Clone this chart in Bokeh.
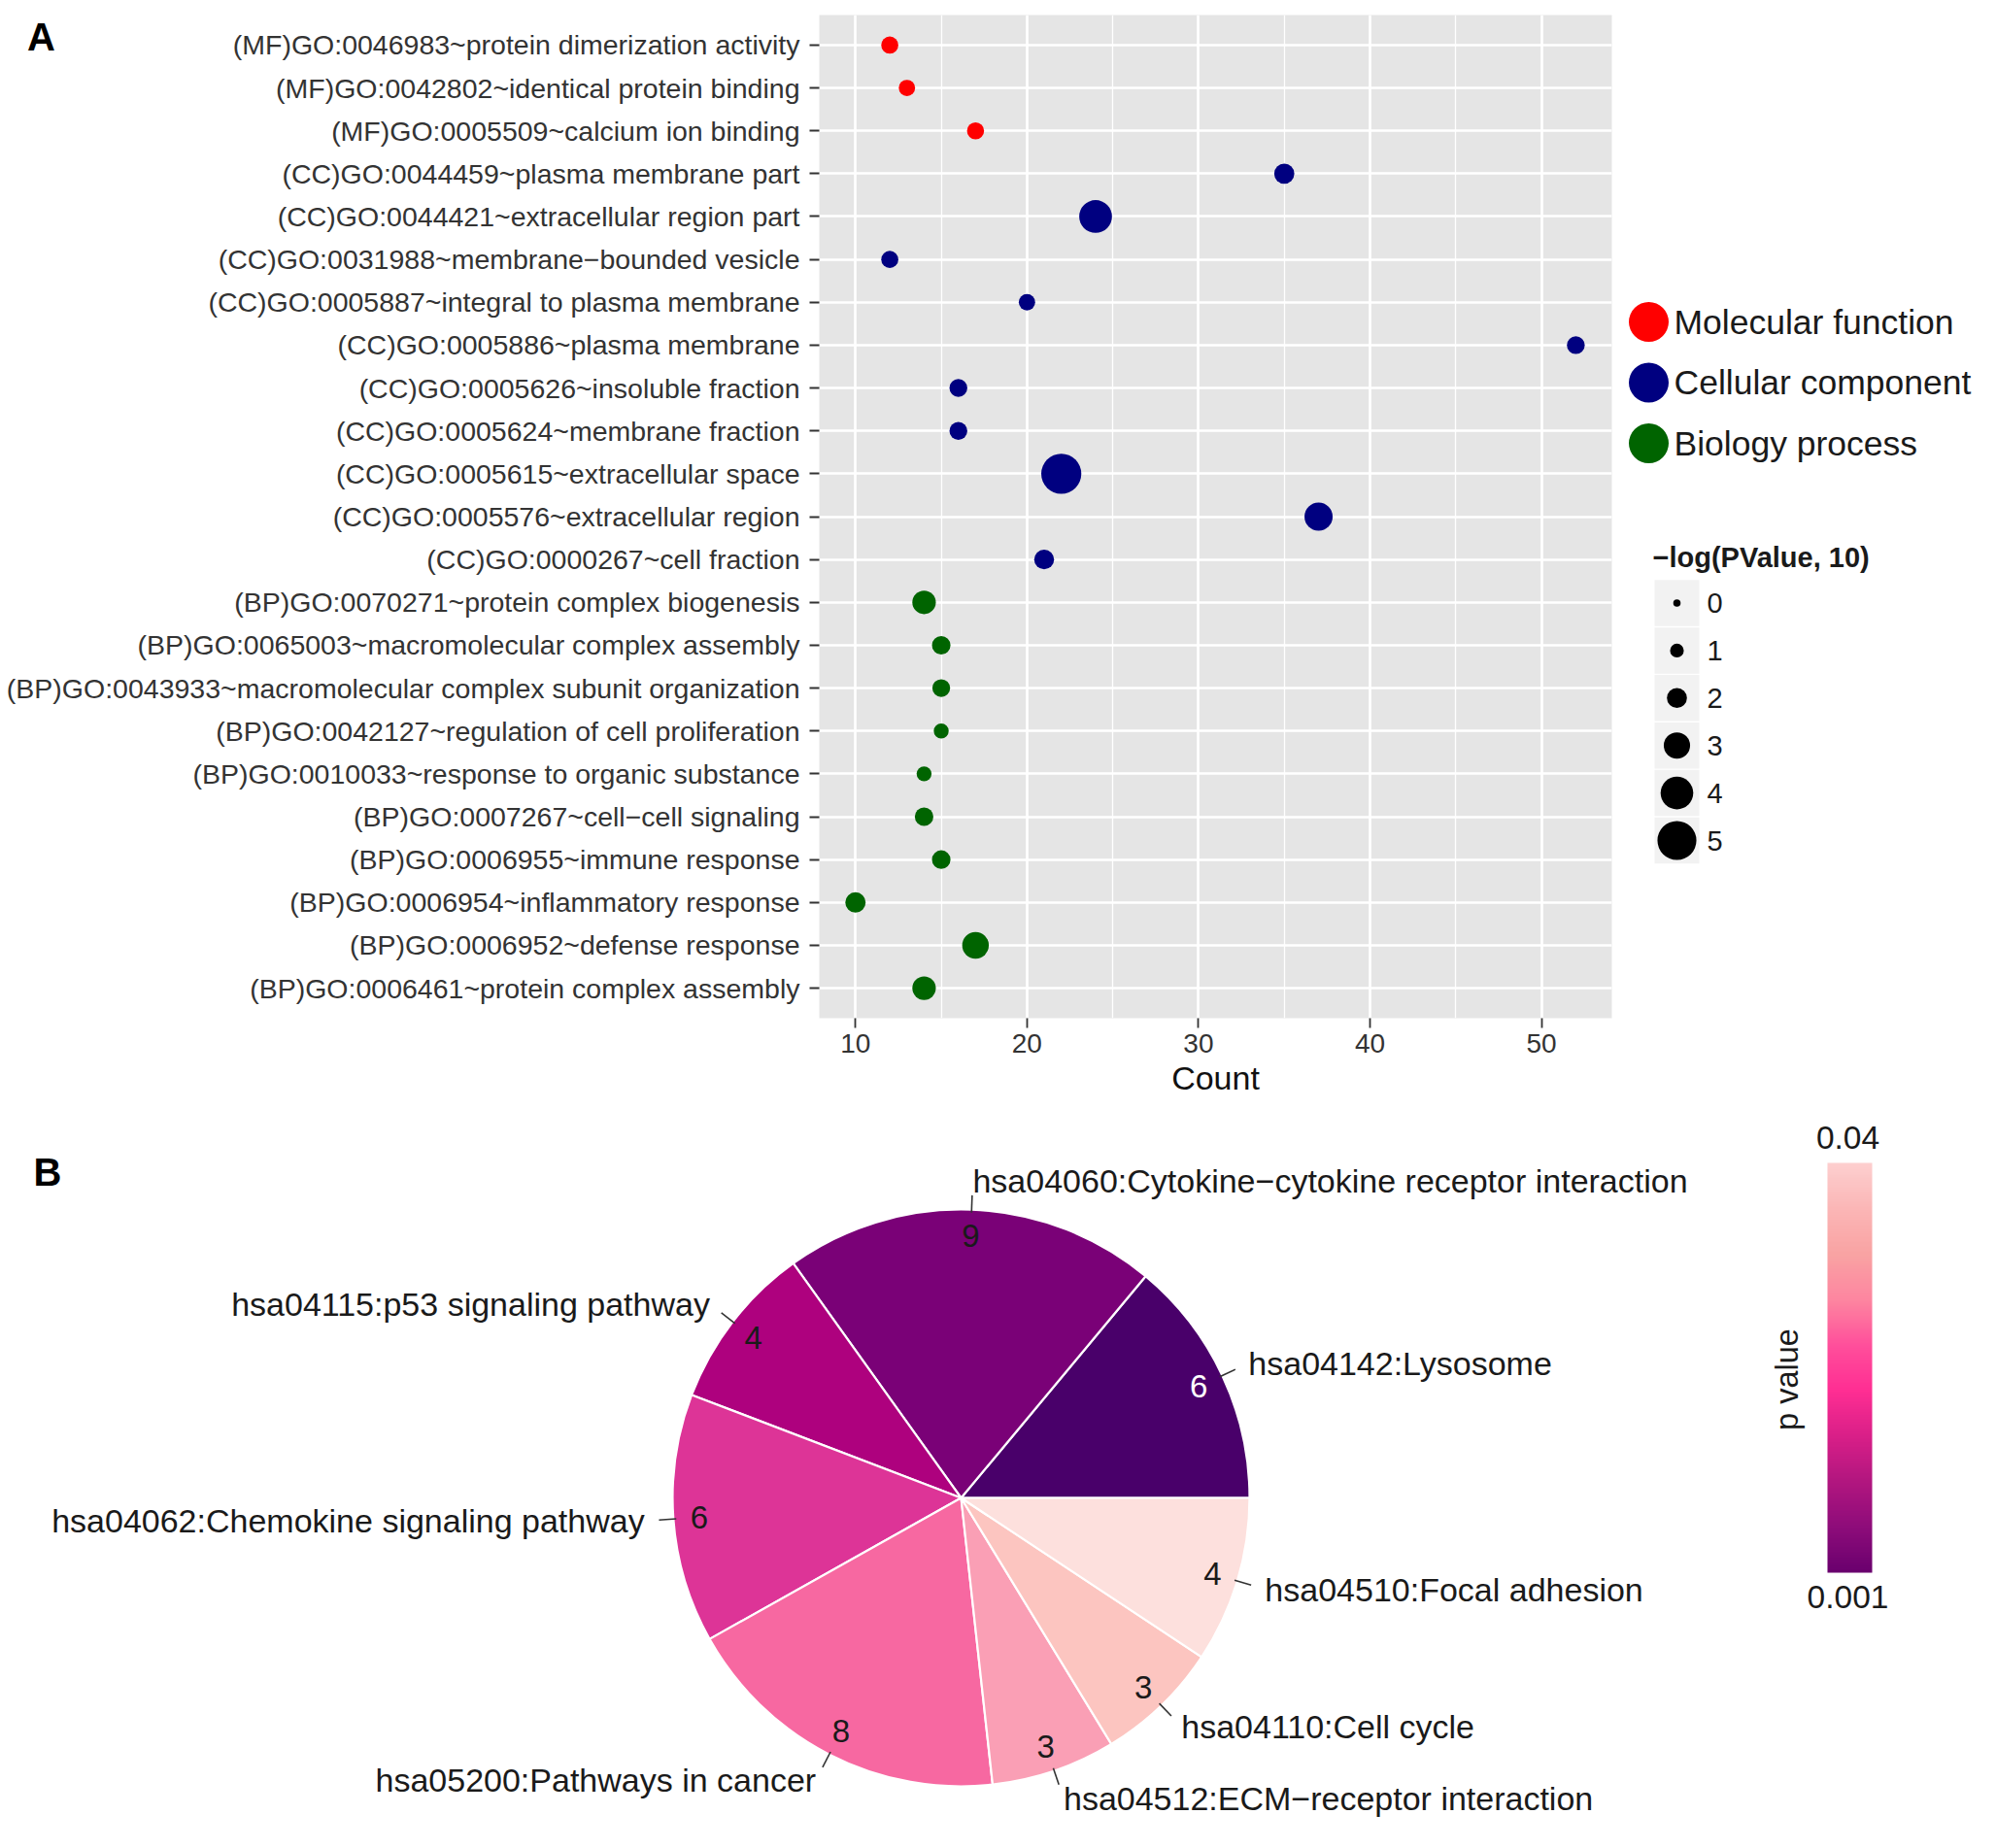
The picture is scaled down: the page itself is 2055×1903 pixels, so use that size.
import numpy as np
from bokeh.plotting import figure
from bokeh.models import (Range1d, FactorRange, ColumnDataSource, SingleIntervalTicker,
                          Label, LinearColorMapper)
from bokeh.layouts import column, row
from bokeh.transform import factor_cmap
from bokeh.embed import file_html
from bokeh.resources import INLINE

FONT = "Liberation Sans"

# ---------------- Panel A data (top to bottom) ----------------
go_terms = [
    "(MF)GO:0046983~protein dimerization activity",
    "(MF)GO:0042802~identical protein binding",
    "(MF)GO:0005509~calcium ion binding",
    "(CC)GO:0044459~plasma membrane part",
    "(CC)GO:0044421~extracellular region part",
    "(CC)GO:0031988~membrane\u2212bounded vesicle",
    "(CC)GO:0005887~integral to plasma membrane",
    "(CC)GO:0005886~plasma membrane",
    "(CC)GO:0005626~insoluble fraction",
    "(CC)GO:0005624~membrane fraction",
    "(CC)GO:0005615~extracellular space",
    "(CC)GO:0005576~extracellular region",
    "(CC)GO:0000267~cell fraction",
    "(BP)GO:0070271~protein complex biogenesis",
    "(BP)GO:0065003~macromolecular complex assembly",
    "(BP)GO:0043933~macromolecular complex subunit organization",
    "(BP)GO:0042127~regulation of cell proliferation",
    "(BP)GO:0010033~response to organic substance",
    "(BP)GO:0007267~cell\u2212cell signaling",
    "(BP)GO:0006955~immune response",
    "(BP)GO:0006954~inflammatory response",
    "(BP)GO:0006952~defense response",
    "(BP)GO:0006461~protein complex assembly",
]
go_category = (["Molecular function"] * 3 + ["Cellular component"] * 10
               + ["Biology process"] * 10)
go_count = [12, 13, 17, 35, 24, 12, 20, 52, 16, 16, 22, 37, 21,
            14, 15, 15, 15, 14, 14, 15, 10, 17, 14]
go_neglogp = [1.54, 1.42, 1.54, 2.02, 4.02, 1.54, 1.42, 1.66, 1.66, 1.66, 5.18, 3.29, 1.98,
              2.55, 1.77, 1.65, 1.20, 1.20, 1.77, 1.77, 2.06, 3.05, 2.55]

category_names = ["Molecular function", "Cellular component", "Biology process"]
category_colors = ["#ff0000", "#000080", "#006400"]
size_breaks = [0, 1, 2, 3, 4, 5]
size_title = "\u2212log(PValue, 10)"

# ---------------- Panel B data ----------------
kegg_terms = [
    "hsa04142:Lysosome",
    "hsa04060:Cytokine\u2212cytokine receptor interaction",
    "hsa04115:p53 signaling pathway",
    "hsa04062:Chemokine signaling pathway",
    "hsa05200:Pathways in cancer",
    "hsa04512:ECM\u2212receptor interaction",
    "hsa04110:Cell cycle",
    "hsa04510:Focal adhesion",
]
kegg_counts = [6, 9, 4, 6, 8, 3, 3, 4]
kegg_pvalue = [0.0012, 0.0030, 0.0062, 0.011, 0.017, 0.024, 0.031, 0.038]
pbar_labels = ["0.001", "0.04"]
pbar_limits = [0.001, 0.04]

pie_palette = ["#49006a", "#7a0177", "#ae017e", "#dd3497",
               "#f768a1", "#fa9fb5", "#fcc5c0", "#fde0dd"]


def dot_px(v):
    return 7.6 + 6.5 * v


# ================= Panel A =================
TOP_B, BOT_B, HA = 15, 102, 1150
FRAME_LEFT = 843
factors = go_terms[::-1]
yr = FactorRange(factors=factors, range_padding=0.2, range_padding_units="absolute")
pA = figure(width=1665, height=HA, x_range=Range1d(7.89, 54.1), y_range=yr,
            output_backend="svg", toolbar_location=None,
            min_border_left=FRAME_LEFT, min_border_right=6,
            min_border_top=TOP_B, min_border_bottom=BOT_B)
pA.background_fill_color = "#e5e5e5"
pA.border_fill_color = "white"
pA.outline_line_color = None

srcA = ColumnDataSource(dict(term=go_terms, count=go_count, cat=go_category,
                             size=[dot_px(v) for v in go_neglogp]))
pA.scatter(x="count", y="term", size="size", source=srcA, line_color=None,
           fill_color=factor_cmap("cat", category_colors, category_names))

pA.xaxis.ticker = SingleIntervalTicker(interval=10, num_minor_ticks=2)
pA.xgrid.grid_line_color = "white"
pA.xgrid.grid_line_width = 2.6
pA.xgrid.minor_grid_line_color = "white"
pA.xgrid.minor_grid_line_width = 1.3
pA.ygrid.grid_line_color = "white"
pA.ygrid.grid_line_width = 2.6

for ax in (pA.xaxis[0], pA.yaxis[0]):
    ax.axis_line_color = None
    ax.major_tick_line_color = "#333333"
    ax.major_tick_line_width = 1.8
    ax.major_tick_out = 10
    ax.major_tick_in = 0
    ax.minor_tick_line_color = None
    ax.major_label_text_font = FONT
    ax.major_label_text_color = "#333333"

pA.yaxis.major_label_text_font_size = "28.5px"
pA.yaxis.major_label_standoff = 10
pA.xaxis.major_label_text_font_size = "28px"
pA.xaxis.major_label_standoff = 6
pA.xaxis.axis_label = "Count"
pA.xaxis.axis_label_text_font = FONT
pA.xaxis.axis_label_text_font_size = "34px"
pA.xaxis.axis_label_text_font_style = "normal"
pA.xaxis.axis_label_text_color = "#111111"
pA.xaxis.axis_label_standoff = 4

# panel letter "A": the y axis' own title, horizontal, at the top end of the axis
yax = pA.yaxis[0]
try:
    yax.axis_label = "\nA"
    yax.axis_label_text_font = FONT
    yax.axis_label_text_font_size = "40px"
    yax.axis_label_text_font_style = "bold"
    yax.axis_label_text_color = "black"
    yax.axis_label_text_line_height = 1.0
    yax.axis_label_orientation = "horizontal"
    yax.axis_label_align = "end"
    yax.axis_label_standoff = -53
except Exception:
    yax.axis_label = None

# ================= Legend (right of A) =================
pL = figure(width=374, height=HA, x_range=Range1d(0, 374),
            y_range=Range1d(HA - BOT_B, TOP_B),
            x_axis_type=None, y_axis_type=None, output_backend="svg",
            toolbar_location=None, min_border_left=0, min_border_right=0,
            min_border_top=TOP_B, min_border_bottom=BOT_B)
pL.outline_line_color = None
pL.grid.visible = False

leg_y = [331 + 62.5 * i for i in range(len(category_names))]
pL.scatter(x=[32] * 3, y=leg_y, size=41, fill_color=category_colors, line_color=None)
pL.text(x=[58] * 3, y=leg_y, text=category_names, text_font={"value": FONT},
        text_font_size="35.5px", text_baseline="middle", text_align="left",
        text_color="#1a1a1a")

pL.text(x=[36], y=[573], text=[size_title], text_font={"value": FONT},
        text_font_size="29px", text_font_style="bold", text_baseline="middle",
        text_align="left", text_color="#1a1a1a")
key_y = [620.5 + 48.9 * i for i in range(len(size_breaks))]
pL.rect(x=[61] * len(size_breaks), y=key_y, width=46, height=47.5,
        fill_color="#f2f2f2", line_color=None)
pL.scatter(x=[61] * len(size_breaks), y=key_y, size=[dot_px(v) for v in size_breaks],
           fill_color="black", line_color=None)
pL.text(x=[92] * len(size_breaks), y=key_y, text=[str(v) for v in size_breaks],
        text_font={"value": FONT}, text_font_size="29px", text_baseline="middle",
        text_align="left", text_color="#1a1a1a")

# ================= Panel B: pie =================
R_PX = 297.0
cx_px, cy_px = 989.0, 392.0
WB, HB = 1760, 737
pB = figure(width=WB, height=HB,
            x_range=Range1d(-cx_px / R_PX, (WB - cx_px) / R_PX),
            y_range=Range1d(-(HB - cy_px) / R_PX, cy_px / R_PX),
            x_axis_type=None, y_axis_type=None, output_backend="svg",
            toolbar_location=None, min_border=0)
pB.outline_line_color = None
pB.grid.visible = False

total = float(sum(kegg_counts))
cum = np.concatenate([[0], np.cumsum(kegg_counts)])
starts = 2 * np.pi * cum[:-1] / total
ends = 2 * np.pi * cum[1:] / total
mids = (starts + ends) / 2
order = [t for _, t in sorted(zip(kegg_pvalue, kegg_terms))]
rank = [order.index(t) for t in kegg_terms]

srcB = ColumnDataSource(dict(
    term=kegg_terms, start=starts, end=ends,
    nx=0.91 * np.cos(mids), ny=0.91 * np.sin(mids),
    lx=1.1 * np.cos(mids), ly=1.1 * np.sin(mids),
    s0x=0.99 * np.cos(mids), s0y=0.99 * np.sin(mids),
    s1x=1.05 * np.cos(mids), s1y=1.05 * np.sin(mids),
    count=[str(c) for c in kegg_counts],
    ncolor=["white" if r == 0 else "#1a1a1a" for r in rank],
    align=["left" if np.cos(m) >= 0 else "right" for m in mids],
))
pB.wedge(x=0, y=0, radius=1, start_angle="start", end_angle="end", source=srcB,
         fill_color=factor_cmap("term", pie_palette, order),
         line_color="white", line_width=2.2)
pB.segment(x0="s0x", y0="s0y", x1="s1x", y1="s1y", source=srcB,
           line_color="#333333", line_width=1.6)
pB.text(x="nx", y="ny", text="count", source=srcB, text_font={"value": FONT},
        text_font_size="33px", text_align="center", text_baseline="middle",
        text_color="ncolor")
pB.text(x="lx", y="ly", text="term", source=srcB, text_font={"value": FONT},
        text_font_size="34px", text_align="align", text_baseline="middle",
        text_color="#1a1a1a")
pB.add_layout(Label(x=(34 - cx_px) / R_PX, y=(cy_px - 56) / R_PX, text="B",
                    text_font=FONT, text_font_size="40px", text_font_style="bold",
                    text_baseline="middle", text_align="left", text_color="black"))

# ================= Colour bar =================
WC, HC = 279, 737
pC = figure(width=WC, height=HC, x_range=Range1d(0, WC), y_range=Range1d(0, HC),
            x_axis_type=None, y_axis_type=None, output_backend="svg",
            toolbar_location=None, min_border=0)
pC.outline_line_color = None
pC.grid.visible = False

anchors = ["#6a006e", "#8e0c7a", "#b2167f", "#d91f88", "#ff2e93", "#ff4f9b",
           "#fd86a0", "#f9a3a3", "#fbb6b6", "#fdcfcf"]
def _hex(c):
    return np.array([int(c[i:i + 2], 16) for i in (1, 3, 5)], dtype=float)
anc = np.array([_hex(c) for c in anchors])
tpos = np.linspace(0, 1, len(anchors))
tt = np.linspace(0, 1, 256)
grad = ["#%02x%02x%02x" % tuple(int(round(np.interp(t, tpos, anc[:, k]))) for k in range(3))
        for t in tt]
mapper = LinearColorMapper(palette=grad, low=pbar_limits[0], high=pbar_limits[1])
img = np.linspace(pbar_limits[0], pbar_limits[1], 256).reshape(256, 1)
pC.image(image=[img], x=121, y=268, dw=46, dh=422, color_mapper=mapper)
pC.text(x=[142, 142], y=[243, 716], text=pbar_labels, text_font={"value": FONT},
        text_font_size="33.5px", text_align="center", text_baseline="middle",
        text_color="#1a1a1a")
pC.text(x=[79], y=[467], text=["p value"], text_font={"value": FONT},
        text_font_size="32.5px", text_align="center", text_baseline="middle",
        angle=np.pi / 2, text_color="#1a1a1a")

layout = column(row(pA, pL), row(pB, pC))
open("out.html", "w").write(file_html(layout, INLINE))
